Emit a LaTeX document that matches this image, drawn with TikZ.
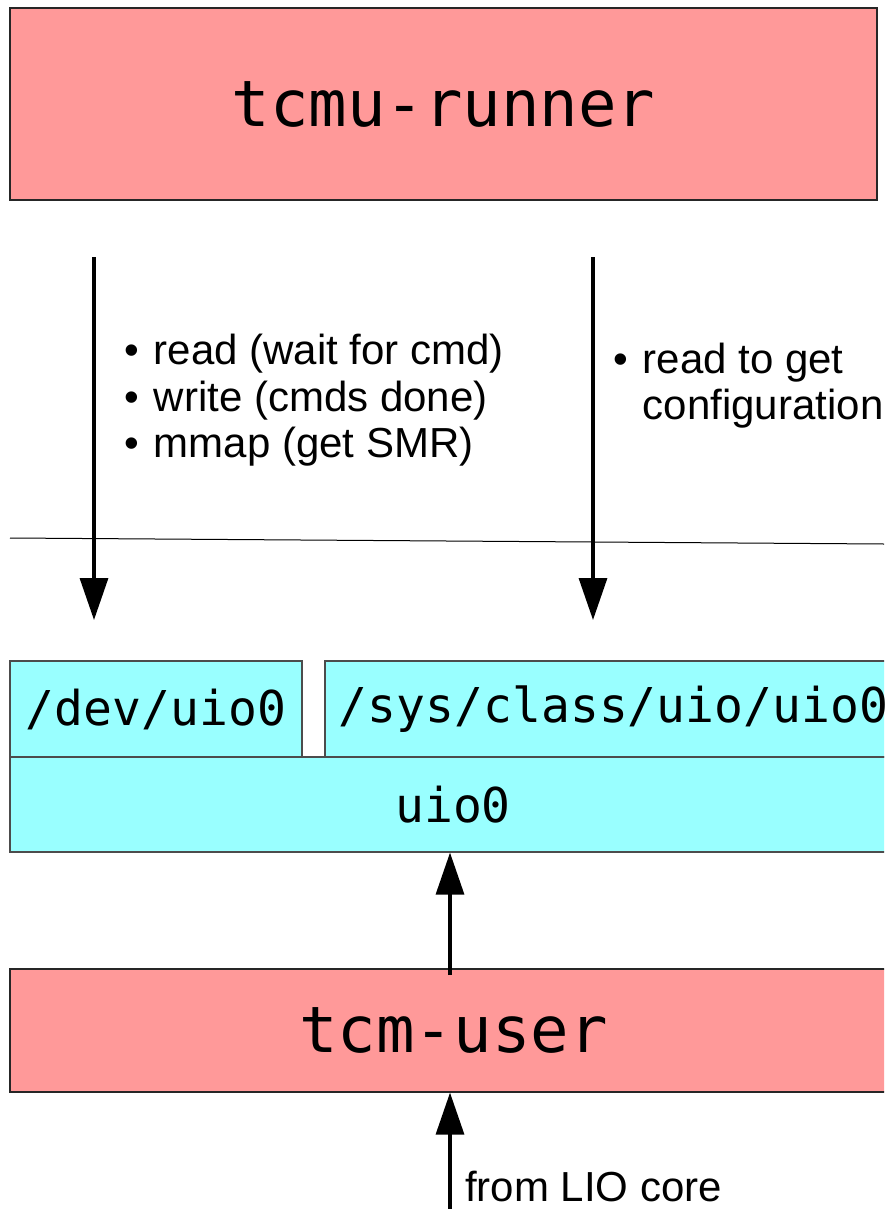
\documentclass[tikz,border=0pt]{standalone}
\usepackage{fontspec}
\setmainfont{Liberation Sans}
\setmonofont{DejaVu Sans Mono}
\usetikzlibrary{arrows.meta}
\definecolor{boxred}{RGB}{255,153,153}
\definecolor{boxcyan}{RGB}{153,255,255}
\tikzset{
  redbox/.style={draw=black!85, line width=1.2pt, fill=boxred, inner sep=0pt,
    font=\fontsize{64}{64}\selectfont\ttfamily},
  cyanbox/.style={draw=black!70, line width=1.2pt, fill=boxcyan, inner sep=0pt,
    font=\fontsize{48}{48}\selectfont\ttfamily},
  arr/.style={line width=3.3pt, -{Triangle[length=42pt,width=28pt]}},
  note/.style={anchor=west, inner sep=0pt, font=\fontsize{42}{46.5}\selectfont}
}
\begin{document}
\begin{tikzpicture}[x=1pt,y=-1pt]
\useasboundingbox (0,0) rectangle (884,1209);
\clip (0,0) rectangle (884,1209);
% boxes
\node [redbox, minimum width=867pt, minimum height=192pt] (runner) at (443.5,104) {tcmu-runner};
\node [cyanbox, minimum width=292pt, minimum height=96pt] (dev) at (156,709) {/dev/uio0};
\node [cyanbox, minimum width=577pt, minimum height=96pt] (sys) at (613.5,709) {/sys/class/uio/uio0};
\node [cyanbox, minimum width=886pt, minimum height=95pt] (uio) at (453,804.5) {uio0};
\node [redbox, minimum width=887pt, minimum height=123pt] (user) at (453.5,1030.5) {tcm-user};
% user/kernel line
\draw [line width=1pt] (10,538) -- (884,544);
% arrows
\coordinate (devtop) at (94,257);
\coordinate (devend) at (94,620);
\coordinate (systop) at (593,257);
\coordinate (sysend) at (593,620);
\coordinate (userup) at (450,975);
\coordinate (lio) at (450,1209);
\draw [arr] (devtop) -- (devend);
\draw [arr] (systop) -- (sysend);
\draw [arr] (userup) -- (userup |- uio.south);
\draw [arr] (lio) -- (lio |- user.south);
% labels
\node [note] (devops) at (124,402) {\begin{tabular}{@{}l@{\hspace{15pt}}l@{}}
\textbullet & read (wait for cmd)\\
\textbullet & write (cmds done)\\
\textbullet & mmap (get SMR)
\end{tabular}};
\node [note] (sysops) at (613,387) {\begin{tabular}{@{}l@{\hspace{15pt}}l@{}}
\textbullet & read to get\\
 & configuration
\end{tabular}};
\node [note] (liocore) at (465,1186) {from LIO core};
\end{tikzpicture}
\end{document}
